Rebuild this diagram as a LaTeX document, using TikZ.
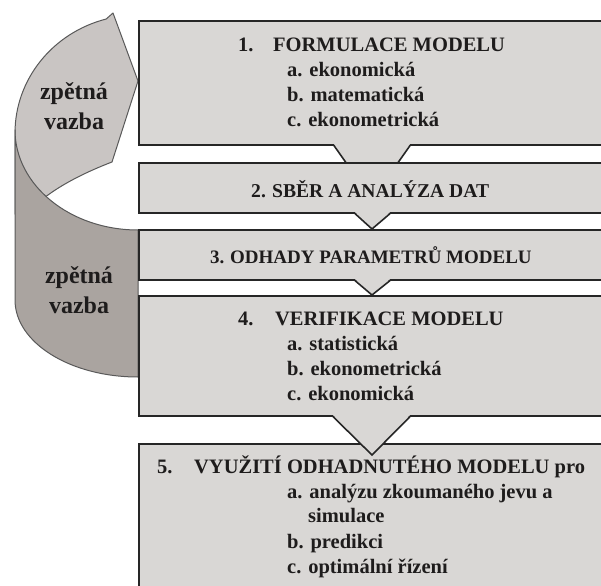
\documentclass[tikz,border=0pt]{standalone}
\usepackage{fontspec}
\setmainfont{Liberation Serif}
\usetikzlibrary{calc}
\definecolor{boxfill}{RGB}{217,215,213}
\definecolor{fblight}{RGB}{201,197,195}
\definecolor{fbdark}{RGB}{170,164,160}
\definecolor{edgecol}{RGB}{38,38,38}
\definecolor{inkcol}{RGB}{30,28,28}
\begin{document}
\begin{tikzpicture}[x=1pt,y=-1pt,
  box/.style={draw=edgecol, line width=1.6pt, fill=boxfill, rectangle, inner sep=0pt, anchor=north west, minimum width=480pt},
  txt/.style={inner sep=0pt, anchor=base west, text=inkcol, font=\bfseries\fontsize{20.5}{25}\selectfont},
  fbtxt/.style={inner sep=0pt, anchor=base, text=inkcol, font=\bfseries\fontsize{24}{30}\selectfont},
  fbshape/.style={draw=black!65, line width=1pt, line join=round},
  arrowedge/.style={draw=edgecol, line width=1.6pt, line cap=round}]
\useasboundingbox (0,0) rectangle (601,585);
\clip (0,0) rectangle (601,585);
\fill[white] (0,0) rectangle (601,585);

% feedback shapes
\draw[fbshape, fill=fblight] (15,185) -- (15,133)
  arc[start angle=180, end angle=255, x radius=123, y radius=118]
  -- (113,13) -- (138,81) -- (112,162)
  .. controls (86,172) and (62,184) .. (44,198) -- (28,214) -- (15,214) -- cycle;
\draw[fbshape, fill=fbdark] (138,230)
  arc[start angle=90, end angle=180, x radius=123, y radius=100]
  -- (15,300)
  arc[start angle=180, end angle=90, x radius=123, y radius=77]
  -- cycle;
\node[fbtxt] (fb1a) at (74,100) {zpětná};
\node[fbtxt] (fb1b) at (74,130) {vazba};
\node[fbtxt] (fb2a) at (79,283) {zpětná};
\node[fbtxt] (fb2b) at (79,313) {vazba};

% boxes and arrows
\node[box, minimum height=124pt] (b1) at (138,20) {};
\coordinate (a1l) at ($(b1.south west)+(196,0)$);
\coordinate (a1r) at ($(b1.south west)+(272,0)$);
\coordinate (a1t) at ($(b1.south west)+(234,54)$);
\fill[boxfill] ($(a1l)+(0,-1.5)$) -- ($(a1r)+(0,-1.5)$) -- (a1t) -- cycle;
\draw[arrowedge] (a1l) -- (a1t) (a1r) -- (a1t);

\node[box, minimum height=50pt] (b2) at (138,162) {};
\node[box, minimum height=50pt] (b3) at (138,229) {};
\coordinate (a2l) at ($(b2.south west)+(217,0)$);
\coordinate (a2r) at ($(b2.south west)+(252,0)$);
\coordinate (a2t) at ($(b3.north west)+(234,0)$);
\fill[boxfill] ($(a2l)+(0,-1.5)$) -- ($(a2r)+(0,-1.5)$) -- (a2t) -- cycle;
\draw[arrowedge] (a2l) -- (a2t) -- (a2r);

\node[box, minimum height=120pt] (b4) at (138,295) {};
\coordinate (a3l) at ($(b3.south west)+(217,0)$);
\coordinate (a3r) at ($(b3.south west)+(252,0)$);
\coordinate (a3t) at ($(b4.north west)+(234,0)$);
\fill[boxfill] ($(a3l)+(0,-1.5)$) -- ($(a3r)+(0,-1.5)$) -- (a3t) -- cycle;
\draw[arrowedge] (a3l) -- (a3t) -- (a3r);

\node[box, minimum height=160pt] (b5) at (138,443) {};
\coordinate (a4l) at ($(b4.south west)+(195,0)$);
\coordinate (a4r) at ($(b4.south west)+(272,0)$);
\coordinate (a4t) at ($(b5.north west)+(234,12)$);
\fill[boxfill] ($(a4l)+(0,-1.5)$) -- ($(a4r)+(0,-1.5)$) -- (a4t) -- cycle;
\draw[arrowedge] (a4l) -- (a4t) -- (a4r);

% texts
\node[txt] (t1) at (238,52) {\makebox[35pt][l]{1.}FORMULACE MODELU};
\node[txt] (t1a) at (287,77) {a. ekonomická};
\node[txt] (t1b) at (287,102) {b. matematická};
\node[txt] (t1c) at (287,127) {c. ekonometrická};
\node[txt, font=\bfseries\fontsize{19.6}{25}\selectfont] (t2) at (251,197) {\makebox[21pt][l]{2.}SBĚR A ANALÝZA DAT};
\node[txt, font=\bfseries\fontsize{19}{25}\selectfont] (t3) at (210,263) {\makebox[20pt][l]{3.}ODHADY PARAMETRŮ MODELU};
\node[txt] (t4) at (238,325) {\makebox[37pt][l]{4.}VERIFIKACE MODELU};
\node[txt] (t4a) at (287,350) {a. statistická};
\node[txt] (t4b) at (287,375) {b. ekonometrická};
\node[txt] (t4c) at (287,400) {c. ekonomická};
\node[txt] (t5) at (157,473) {\makebox[37pt][l]{5.}VYUŽITÍ ODHADNUTÉHO MODELU pro};
\node[txt] (t5a) at (287,498) {a. analýzu zkoumaného jevu a};
\node[txt] (t5s) at (308,522) {simulace};
\node[txt] (t5b) at (287,548) {b. predikci};
\node[txt] (t5c) at (287,573) {c. optimální řízení};
\end{tikzpicture}
\end{document}
